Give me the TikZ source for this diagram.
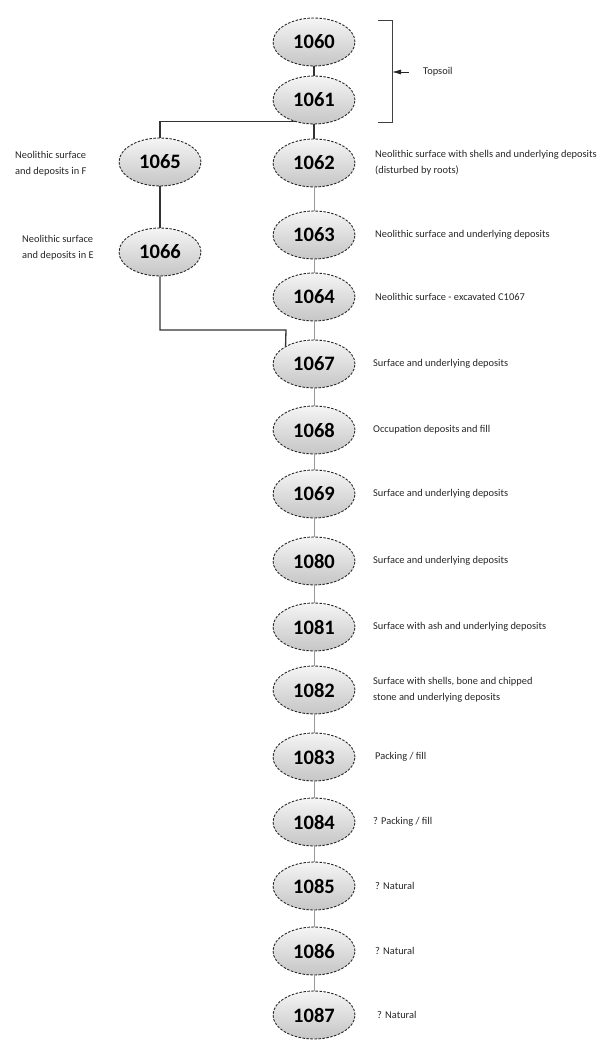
\documentclass[tikz,border=0pt]{standalone}
\usepackage{fontspec}
\setmainfont{Carlito}
\usetikzlibrary{shapes.geometric,arrows.meta}
\tikzset{
  ctx/.style={ellipse, draw=black!85, dashed, dash pattern=on 2.5pt off 1.5pt, line width=0.9pt,
    minimum width=82pt, minimum height=48pt, inner sep=0pt,
    top color=gray!8, bottom color=gray!45, font=\bfseries\fontsize{20.5}{22}\selectfont},
  lab/.style={anchor=west, align=left, font=\fontsize{10.4}{16}\selectfont, text=black!85, inner sep=0pt},
  llab/.style={anchor=west, align=left, font=\fontsize{10.4}{16}\selectfont, text=black!85, inner sep=0pt},
  dark/.style={draw=black!80, line width=1.3pt},
  light/.style={draw=black!40, line width=0.8pt},
}
\begin{document}
\begin{tikzpicture}[x=1pt,y=-1pt]
\useasboundingbox (0,0) rectangle (611,1040);
% main column
\node[ctx] (n1060) at (314,42) {1060};
\node[ctx] (n1061) at (314,100) {1061};
\node[ctx] (n1062) at (314,163) {1062};
\node[ctx] (n1063) at (314,235) {1063};
\node[ctx] (n1064) at (314,297) {1064};
\node[ctx] (n1067) at (314,364) {1067};
\node[ctx] (n1068) at (314,430) {1068};
\node[ctx] (n1069) at (314,494) {1069};
\node[ctx] (n1080) at (314,561) {1080};
\node[ctx] (n1081) at (314,627) {1081};
\node[ctx] (n1082) at (314,690) {1082};
\node[ctx] (n1083) at (314,757) {1083};
\node[ctx] (n1084) at (314,822) {1084};
\node[ctx] (n1085) at (314,886) {1085};
\node[ctx] (n1086) at (314,951) {1086};
\node[ctx] (n1087) at (314,1015) {1087};
% left column
\node[ctx] (n1065) at (160,162) {1065};
\node[ctx] (n1066) at (160,252) {1066};

% connectors
\draw[dark] (n1060) -- (n1061);
\draw[dark] (n1061) -- (n1062);
\draw[dark] (n1061.228) -| (n1065.north);
\draw[dark] (n1065) -- (n1066);
\coordinate (k1) at (286,330);
\draw[dark] (n1066.south) |- (k1) -- (n1067.148);
\draw[light] (n1062) -- (n1063);
\draw[light] (n1063) -- (n1064);
\draw[light] (n1064) -- (n1067);
\draw[light] (n1067) -- (n1068);
\draw[light] (n1068) -- (n1069);
\draw[light] (n1069) -- (n1080);
\draw[light] (n1080) -- (n1081);
\draw[light] (n1081) -- (n1082);
\draw[light] (n1082) -- (n1083);
\draw[light] (n1083) -- (n1084);
\draw[light] (n1084) -- (n1085);
\draw[light] (n1085) -- (n1086);
\draw[light] (n1086) -- (n1087);

% bracket
\coordinate (bt) at (378,20);
\coordinate (bb) at (378,122);
\coordinate (bm) at (392,72);
\coordinate (be) at (409,72);
\draw[draw=black!75, line width=0.9pt] (bt) -- (392,20) -- (392,122) -- (bb);
\node[lab] (ltop) at (423,72) {Topsoil};
\draw[draw=black!85, line width=0.8pt, {Latex[length=9pt,width=5pt]}-] (bm) -- (be);

% labels
\node[llab] (l1065) at (15,164) {Neolithic surface\\and deposits in F};
\node[llab] (l1066) at (22,248) {Neolithic surface\\and deposits in E};
\node[lab] (l1062) at (375,163) {Neolithic surface with shells and underlying deposits\\(disturbed by roots)};
\node[lab] (l1063) at (375,235) {Neolithic surface and underlying deposits};
\node[lab] (l1064) at (375,297) {Neolithic surface - excavated C1067};
\node[lab] (l1067) at (373,364) {Surface and underlying deposits};
\node[lab] (l1068) at (373,430) {Occupation deposits and fill};
\node[lab] (l1069) at (373,494) {Surface and underlying deposits};
\node[lab] (l1080) at (373,561) {Surface and underlying deposits};
\node[lab] (l1081) at (373,627) {Surface with ash and underlying deposits};
\node[lab] (l1082) at (373,690) {Surface with shells, bone and chipped\\stone and underlying deposits};
\node[lab] (l1083) at (375,757) {Packing / fill};
\node[lab] (l1084) at (373,822) {? Packing / fill};
\node[lab] (l1085) at (375,886) {? Natural};
\node[lab] (l1086) at (375,951) {? Natural};
\node[lab] (l1087) at (377,1015) {? Natural};
\end{tikzpicture}
\end{document}
